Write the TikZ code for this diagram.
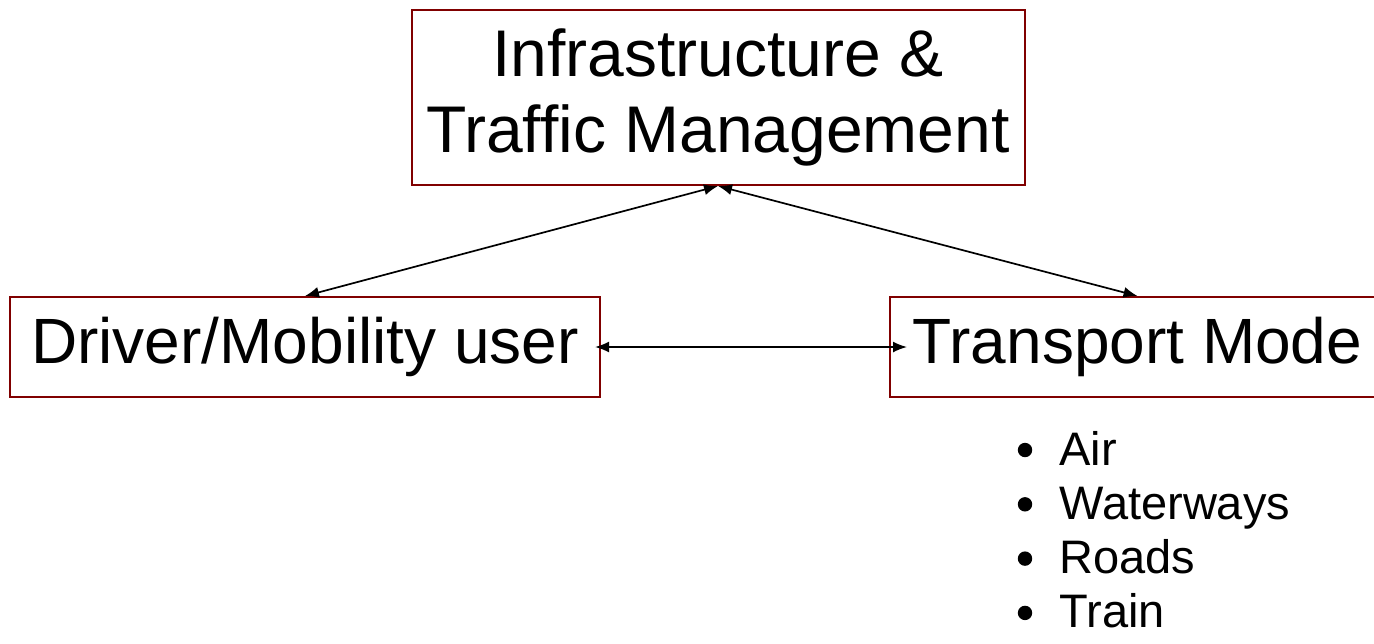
\documentclass[tikz,border=0pt]{standalone}
\usepackage{fontspec}
\setmainfont{Liberation Sans}
\usetikzlibrary{positioning,arrows.meta}
\definecolor{boxred}{RGB}{128,0,0}
\begin{document}
\begin{tikzpicture}[>={Latex[length=7pt,width=5.5pt]}, x=0.5pt, y=-0.5pt,
		every node/.style={inner sep=0pt},
		block/.style={draw=boxred,line width=1pt,align=center,font=\fontsize{32}{38}\selectfont},
		link/.style={<->,line width=0.85pt},
		modeitem/.style={anchor=base west,font=\fontsize{23.5}{26}\selectfont}]
		
		\useasboundingbox (0,0) rectangle (1374,643);
		
		\node[block,font=\fontsize{33}{38}\selectfont,minimum width=306.5pt,minimum height=87.5pt] (infra) at (718,97.5) {Infrastructure \&\\Traffic Management};
		\node[block,minimum width=295pt,minimum height=50pt] (driver) at (305,347) {Driver/Mobility user};
		\node[block,minimum width=247.5pt,minimum height=50pt] (mode) at (1137.5,347) {Transport Mode};
		
		\draw[link] (infra.south) -- (driver.north);
		\draw[link] (infra.south) -- (mode.north);
		\draw[link,shorten <=-3pt,shorten >=-9pt] (driver.east) -- (mode.west);
		
		% the kinds of transport mode, each with a round bullet
		\foreach \kind [count=\i from 0] in {Air,Waterways,Roads,Train}{
			\node[modeitem] (kind\i) at (1059,465+54.3*\i) {\kind};
			\fill ([xshift=-17pt,yshift=7.5pt]kind\i.base west) circle (3.6pt);
		}
\end{tikzpicture}
\end{document}
